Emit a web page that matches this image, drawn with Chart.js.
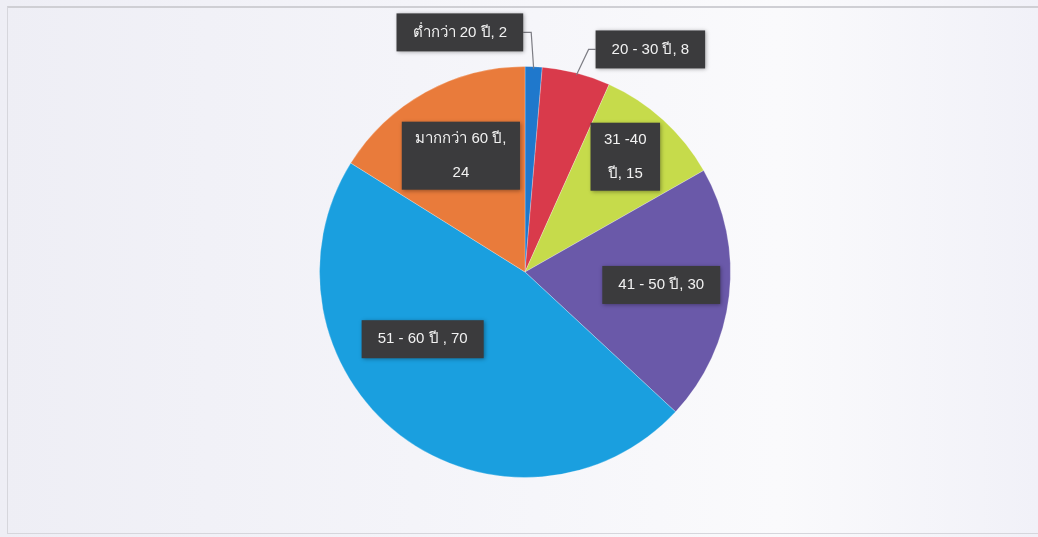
<!DOCTYPE html>
<html>
<head>
<meta charset="utf-8">
<script src="https://cdn.jsdelivr.net/npm/chart.js@4"></script>
<style>
  html, body { margin: 0; padding: 0; }
  body {
    width: 1038px; height: 537px; overflow: hidden;
    background: linear-gradient(90deg, #eeeef5 0%, #f4f4f9 40%, #fafafc 75%, #f1f1f8 100%);
  }
  #frame {
    position: absolute; left: 7px; top: 6px; width: 1031px; height: 525px;
    border-top: 2px solid #cfcfd4; border-left: 1px solid #d6d6dc; border-bottom: 1px solid #d6d6dc;
  }
  #wrap { position: absolute; left: 0; top: 0; width: 1038px; height: 537px; }
</style>
</head>
<body>
<div id="frame"></div>
<div id="wrap"><canvas id="ageChart"></canvas></div>
<script>
// ================= DATA =================
const labels = ["ต่ำกว่า 20 ปี", "20 - 30 ปี", "31 -40 ปี", "41 - 50 ปี", "51 - 60 ปี ", "มากกว่า 60 ปี"];
const values = [2, 8, 15, 30, 70, 24];
const colors = ["#1f78cc", "#d93a4b", "#c6db4b", "#6a59a9", "#1a9fdf", "#e97b3b"];

// label box text lines
const labelLines = [
  ["ต่ำกว่า 20 ปี, 2"],
  ["20 - 30 ปี, 8"],
  ["31 -40", "ปี, 15"],
  ["41 - 50 ปี, 30"],
  ["51 - 60 ปี , 70"],
  ["มากกว่า 60 ปี,", "24"]
];

// ================= LAYOUT (label centre, in pie radii from centre) =================
const labelPos = [
  { x: -0.317, y: -1.166, leader: true },
  { x: 0.61, y: -1.083, leader: true },
  { x: 0.488, y: -0.561 },
  { x: 0.663, y: 0.063 },
  { x: -0.498, y: 0.327 },
  { x: -0.312, y: -0.566 }
];

// ================= LABEL PLUGIN =================
const boxLabels = {
  id: "boxLabels",
  afterDatasetsDraw(chart) {
    const ctx = chart.ctx;
    const meta = chart.getDatasetMeta(0);
    ctx.save();
    ctx.font = "15px 'Liberation Sans Narrow', 'Liberation Sans', Arial, sans-serif";
    ctx.textAlign = "center";
    ctx.textBaseline = "middle";

    meta.data.forEach((arc, i) => {
      const r = arc.outerRadius;
      const cx = arc.x + labelPos[i].x * r;
      const cy = arc.y + labelPos[i].y * r;
      const lines = labelLines[i];
      const multi = lines.length > 1;
      const lineH = multi ? 34 : 0;
      const w = Math.max(...lines.map(l => ctx.measureText(l).width)) + (multi ? 27 : 32);
      const h = multi ? 68 : 38;
      const bx = cx - w / 2, by = cy - h / 2;

      if (labelPos[i].leader) {
        const mid = (arc.startAngle + arc.endAngle) / 2;
        const ex = arc.x + Math.cos(mid) * r;
        const ey = arc.y + Math.sin(mid) * r;
        const sx = ex < cx ? bx : bx + w;
        const kx = ex < cx ? sx - 7 : sx + 8;
        ctx.strokeStyle = "#7d7d84";
        ctx.lineWidth = 1.2;
        ctx.beginPath();
        ctx.moveTo(sx, cy);
        ctx.lineTo(kx, cy);
        ctx.lineTo(kx > ex && ex > cx ? kx : ex, ey + 2);
        ctx.stroke();
      }

      ctx.shadowColor = "rgba(0,0,0,0.35)";
      ctx.shadowBlur = 4;
      ctx.shadowOffsetX = 1;
      ctx.shadowOffsetY = 1;
      ctx.fillStyle = "#3b3b3d";
      ctx.fillRect(bx, by, w, h);
      ctx.shadowColor = "transparent";

      ctx.fillStyle = "#f2f2f2";
      lines.forEach((l, k) => {
        ctx.fillText(l, cx, cy + (k - (lines.length - 1) / 2) * lineH);
      });
    });
    ctx.restore();
  }
};

// ================= CHART =================
new Chart(document.getElementById("ageChart"), {
  type: "pie",
  data: {
    labels: labels,
    datasets: [{
      data: values,
      backgroundColor: colors,
      borderColor: "rgba(255,255,255,0.25)",
      borderWidth: 1
    }]
  },
  options: {
    responsive: true,
    maintainAspectRatio: false,
    animation: false,
    layout: { padding: { left: 319, right: 307, top: 66, bottom: 59 } },
    plugins: {
      legend: { display: false },
      tooltip: { enabled: false }
    }
  },
  plugins: [boxLabels]
});
</script>
</body>
</html>
